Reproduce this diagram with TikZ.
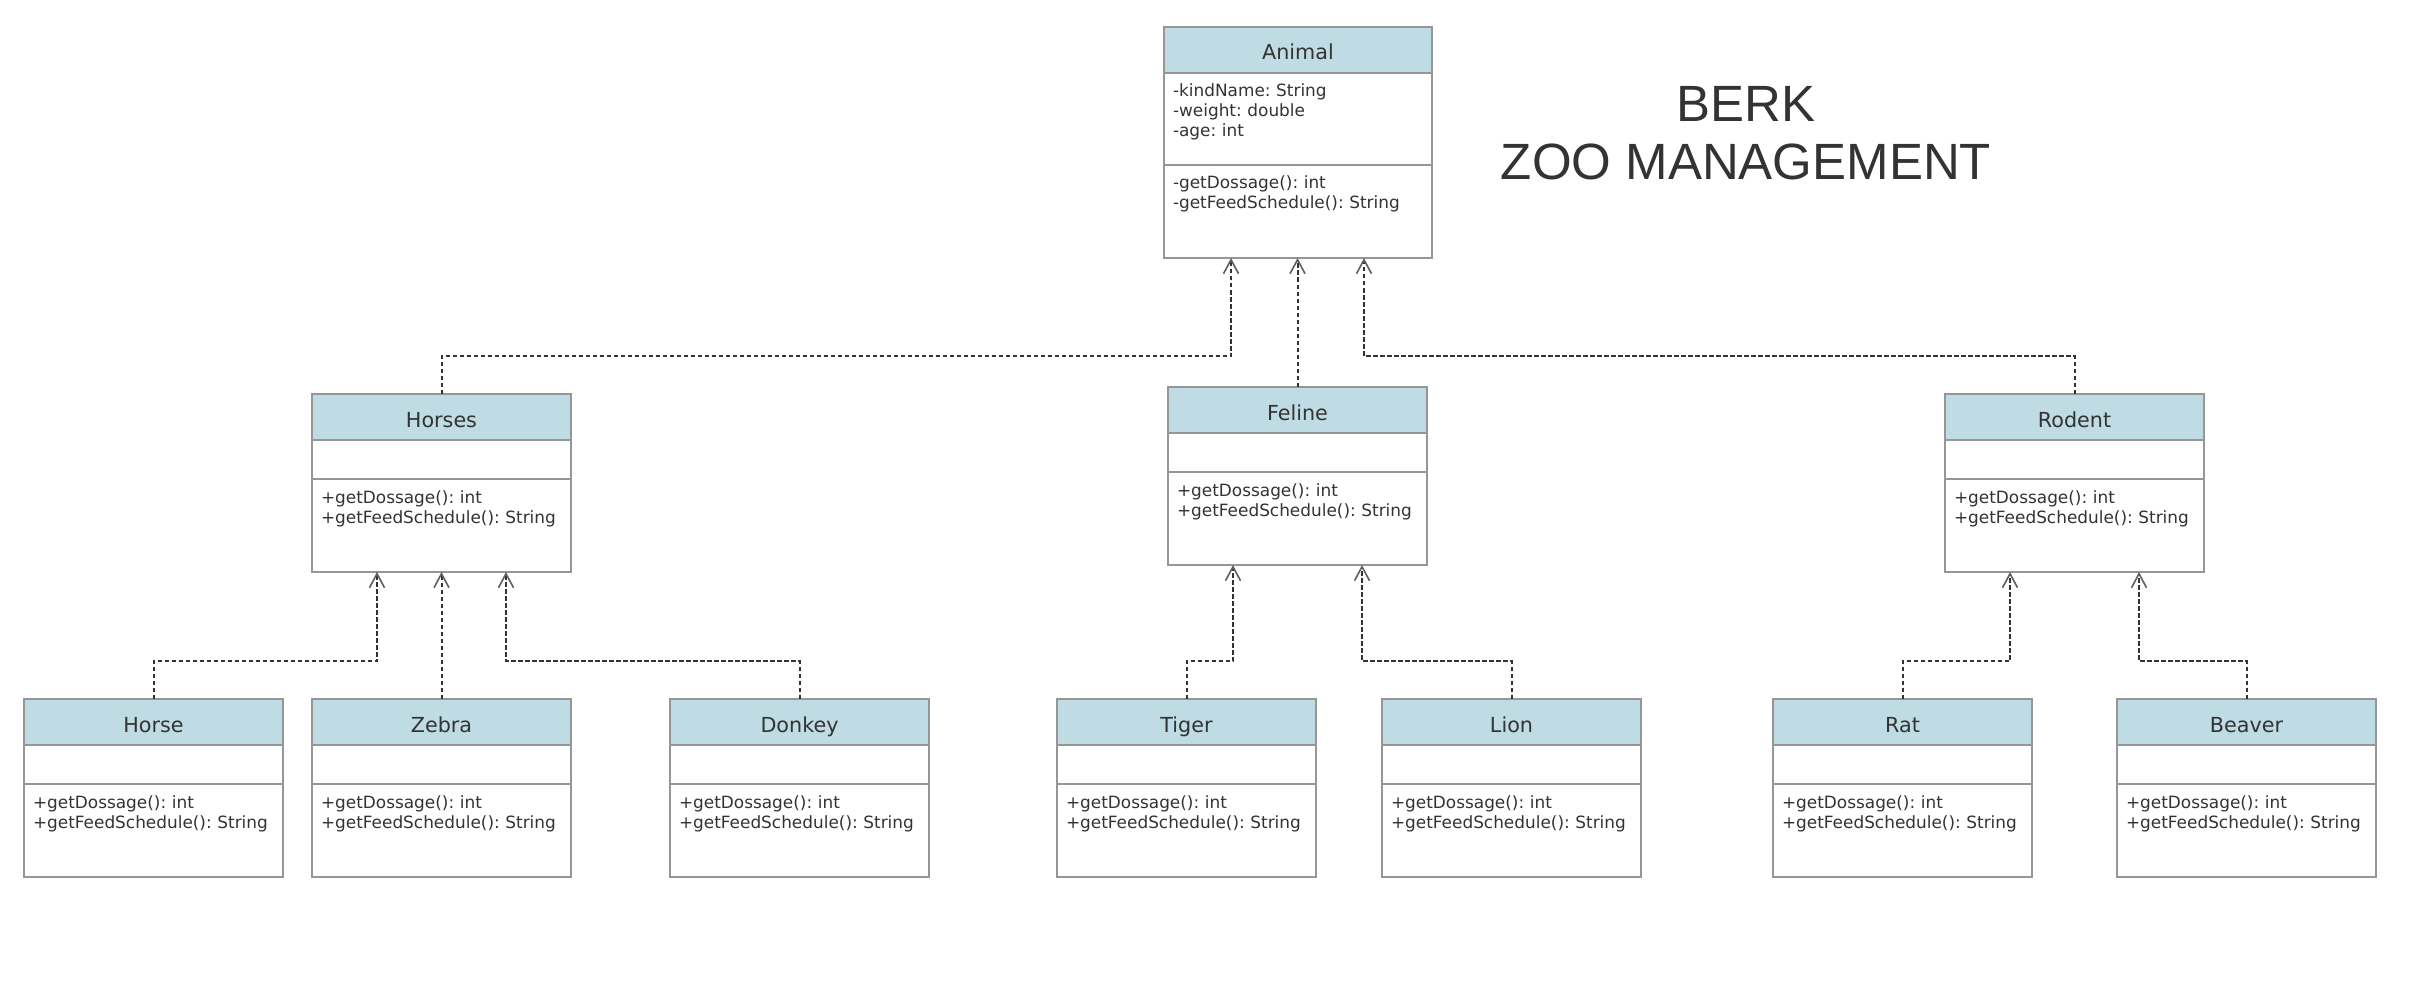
\documentclass[tikz,border=0pt]{standalone}
\usepackage{fontspec}
\setmainfont{DejaVu Sans}
\newfontfamily\titlefont{Liberation Sans}
\usetikzlibrary{positioning}
\usetikzlibrary{arrows.meta}
\frenchspacing
\definecolor{headblue}{RGB}{191,219,228}
\definecolor{linegray}{RGB}{150,150,150}
\definecolor{txtgray}{RGB}{51,51,51}
\definecolor{tipgray}{RGB}{95,95,95}
\newcommand{\Dossage}{getDossage(): int}
\newcommand{\Feed}{getFeedSchedule(): String}
\newcommand{\Pub}{+\Dossage\\+\Feed}
\tikzstyle{clshead} = [rectangle, draw=linegray, fill=headblue, line width=1.5pt, minimum width=259pt, minimum height=46pt, inner sep=0pt, outer sep=0pt, text height=21pt, text depth=1pt, text=txtgray, font=\fontsize{20.7}{24}\selectfont]
\tikzstyle{clsbody} = [rectangle, draw=linegray, fill=white, line width=1.5pt, text width=241pt, align=left, inner xsep=9pt, inner ysep=10pt, outer sep=0pt, text height=14pt, text depth=59pt, text=txtgray, font=\fontsize{16.9}{20}\selectfont]
\tikzstyle{clsattr} = [clsbody, text depth=5pt]
\tikzstyle{realize} = [draw=txtgray, line width=2pt, dash pattern=on 4.5pt off 2.5pt, -{Straight Barb[length=14pt, width=15pt, line width=1.6pt, color=tipgray]}]

\begin{document}
\begin{tikzpicture}[x=1pt, y=-1pt]
\useasboundingbox (0,0) rectangle (2424,984);

% Define nodes
\node[clshead, minimum width=268pt, anchor=north] (animal) at (1298,27) {Animal};
\node[clsattr, text width=250pt, text depth=58pt, below=0pt of animal] (animalA) {-kindName: String\\-weight: double\\-age: int};
\node[clsbody, text width=250pt, below=0pt of animalA]                 (animalM) {-\Dossage\\-\Feed};

\node[font=\titlefont\fontsize{51}{58}\selectfont, text=txtgray, align=center, inner sep=0pt, anchor=north] (title) at (1746,86) {BERK\\ZOO MANAGEMENT};

\node[clshead, anchor=north] (horses) at (441.5,394) {Horses};
\node[clsattr, below=0pt of horses]  (horsesA) {};
\node[clsbody, below=0pt of horsesA] (horsesM) {\Pub};

\node[clshead, anchor=north] (feline) at (1297.5,387) {Feline};
\node[clsattr, below=0pt of feline]  (felineA) {};
\node[clsbody, below=0pt of felineA] (felineM) {\Pub};

\node[clshead, anchor=north] (rodent) at (2074.5,394) {Rodent};
\node[clsattr, below=0pt of rodent]  (rodentA) {};
\node[clsbody, below=0pt of rodentA] (rodentM) {\Pub};

\node[clshead, anchor=north] (horse) at (153.5,699) {Horse};
\node[clsattr, below=0pt of horse]  (horseA) {};
\node[clsbody, below=0pt of horseA] (horseM) {\Pub};

\node[clshead, anchor=north] (zebra) at (441.5,699) {Zebra};
\node[clsattr, below=0pt of zebra]  (zebraA) {};
\node[clsbody, below=0pt of zebraA] (zebraM) {\Pub};

\node[clshead, anchor=north] (donkey) at (799.5,699) {Donkey};
\node[clsattr, below=0pt of donkey]  (donkeyA) {};
\node[clsbody, below=0pt of donkeyA] (donkeyM) {\Pub};

\node[clshead, anchor=north] (tiger) at (1186.5,699) {Tiger};
\node[clsattr, below=0pt of tiger]  (tigerA) {};
\node[clsbody, below=0pt of tigerA] (tigerM) {\Pub};

\node[clshead, anchor=north] (lion) at (1511.5,699) {Lion};
\node[clsattr, below=0pt of lion]  (lionA) {};
\node[clsbody, below=0pt of lionA] (lionM) {\Pub};

\node[clshead, anchor=north] (rat) at (1902.5,699) {Rat};
\node[clsattr, below=0pt of rat]  (ratA) {};
\node[clsbody, below=0pt of ratA] (ratM) {\Pub};

\node[clshead, anchor=north] (beaver) at (2246.5,699) {Beaver};
\node[clsattr, below=0pt of beaver]  (beaverA) {};
\node[clsbody, below=0pt of beaverA] (beaverM) {\Pub};

% Edges
\draw[realize] (horses.north) -- ++(0,-38) -| ([xshift=-67pt]animalM.south);
\draw[realize] (feline.north) -- (feline.north |- animalM.south);
\draw[realize] (rodent.north) -- ++(0,-38) -| ([xshift=66pt]animalM.south);

\draw[realize] (horse.north)  -- ++(0,-38) -| ([xshift=-64.5pt]horsesM.south);
\draw[realize] (zebra.north)  -- (horsesM.south);
\draw[realize] (donkey.north) -- ++(0,-38) -| ([xshift=64.5pt]horsesM.south);

\draw[realize] (tiger.north) -- ++(0,-38) -| ([xshift=-64.5pt]felineM.south);
\draw[realize] (lion.north)  -- ++(0,-38) -| ([xshift=64.5pt]felineM.south);

\draw[realize] (rat.north)    -- ++(0,-38) -| ([xshift=-64.5pt]rodentM.south);
\draw[realize] (beaver.north) -- ++(0,-38) -| ([xshift=64.5pt]rodentM.south);

\end{tikzpicture}
\end{document}
